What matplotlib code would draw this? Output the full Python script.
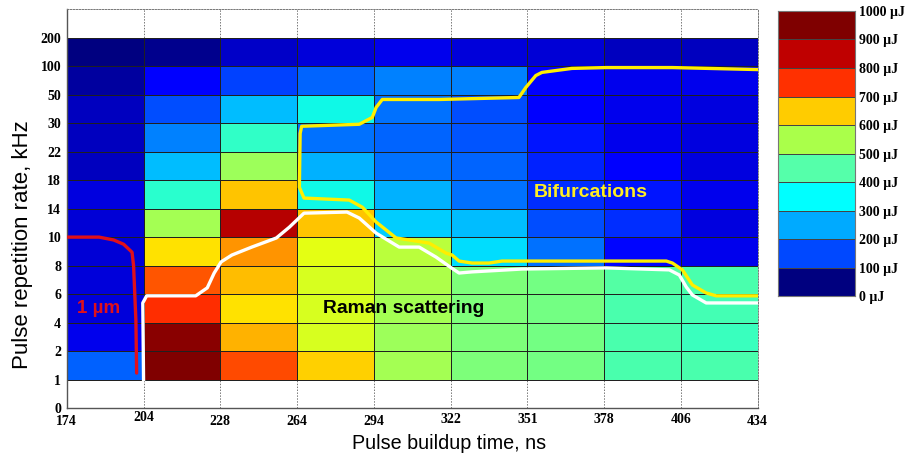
import numpy as np
import matplotlib
matplotlib.use("Agg")
import matplotlib.pyplot as plt
from matplotlib.colors import ListedColormap, BoundaryNorm

# ---- data ----
x_labels = ["174", "204", "228", "264", "294", "322", "351", "378", "406", "434"]
y_labels = ["0", "1", "2", "4", "6", "8", "10", "14", "18", "22", "30", "50", "100", "200"]

# pulse energy (µJ), columns = buildup-time bins, rows bottom (1-2 kHz) -> top (100-200 kHz)
col_174_204 = [220, 95, 80, 80, 75, 75, 85, 55, 55, 55, 30, 0]
col_204_228 = [1000, 990, 860, 820, 670, 550, 400, 310, 250, 200, 110, 15]
col_228_264 = [830, 720, 670, 710, 750, 950, 700, 540, 410, 310, 190, 65]
col_264_294 = [690, 610, 610, 610, 625, 700, 370, 300, 235, 370, 225, 80]
col_294_322 = [550, 540, 550, 560, 575, 325, 300, 235, 225, 235, 250, 95]
col_322_351 = [500, 500, 500, 500, 340, 310, 235, 225, 210, 200, 250, 80]
col_351_378 = [490, 490, 490, 490, 235, 200, 170, 160, 145, 120, 120, 75]
col_378_406 = [440, 440, 440, 450, 130, 170, 145, 110, 95, 95, 95, 55]
col_406_434 = [440, 420, 430, 440, 95, 85, 95, 85, 85, 85, 95, 55]
energy = np.array([col_174_204, col_204_228, col_228_264, col_264_294, col_294_322,
                   col_322_351, col_351_378, col_378_406, col_406_434]).T

# curves in grid coordinates (x: bin index, y: row index)
red_x = [0.0, 0.42, 0.61, 0.74, 0.85, 0.87, 0.90, 0.91]
red_y = [6.0, 6.0, 5.9, 5.75, 5.47, 5.0, 3.09, 1.23]

white_x = [1.00, 0.99, 1.04, 1.68, 1.83, 1.92, 2.01, 2.15, 2.41, 2.73, 2.90, 3.09, 3.65, 3.81,
           4.03, 4.33, 4.59, 4.81, 5.01, 5.11, 5.28, 5.93, 7.03, 7.85, 7.98, 8.07, 8.15, 8.33, 8.99]
white_y = [1.0, 3.69, 3.94, 3.94, 4.22, 4.74, 5.13, 5.37, 5.65, 5.97, 6.35, 6.84, 6.88, 6.67,
           6.14, 5.65, 5.65, 5.30, 4.92, 4.74, 4.78, 4.88, 4.92, 4.85, 4.67, 4.25, 3.97, 3.69, 3.69]

yellow_x = [8.99, 8.46, 8.33, 8.15, 8.02, 7.89, 7.81, 5.67, 5.50, 5.28, 5.11, 5.02, 4.94, 4.72,
            4.46, 4.29, 4.03, 3.85, 3.68, 3.09, 3.03, 3.04, 3.06, 3.81, 3.98, 4.03, 4.11, 4.85,
            5.89, 5.98, 6.11, 6.19, 6.58, 7.03, 7.89, 8.99]
yellow_y = [3.94, 3.94, 4.04, 4.32, 4.85, 5.09, 5.16, 5.16, 5.09, 5.09, 5.16, 5.37, 5.44, 5.79,
            5.90, 5.97, 6.53, 7.05, 7.30, 7.37, 7.75, 9.64, 9.89, 9.96, 10.20, 10.55, 10.83, 10.83,
            10.90, 11.25, 11.67, 11.78, 11.92, 11.95, 11.95, 11.88]

cbar_levels = [0, 100, 200, 300, 400, 500, 600, 700, 800, 900, 1000]
cbar_colors = ["#00007f", "#0048ff", "#00aaff", "#00ffff", "#55ffaa",
               "#aaff4a", "#ffcc00", "#ff3000", "#bf0000", "#7f0000"]

# ---- figure ----
serif_bold = dict(family="Liberation Serif", weight="bold", size=10)
fig = plt.figure(figsize=(9.15, 4.57), dpi=100)
ax = fig.add_axes([0.073, 0.107, 0.755, 0.873])

nx = len(x_labels)
ny = len(y_labels)
xe = np.arange(nx)
ye = np.arange(1, ny)
ax.pcolormesh(xe, ye, energy, cmap="jet", vmin=0, vmax=1000,
              edgecolors="#202020", linewidth=0.6, zorder=1)

ax.set_xlim(0, nx - 1)
ax.set_ylim(0, ny)
ax.set_xticks(np.arange(nx))
ax.set_xticklabels(x_labels, fontdict=serif_bold)
ax.set_yticks(np.arange(ny))
ax.set_yticklabels(y_labels, fontdict=serif_bold)
ax.tick_params(length=0, pad=4)
for i, lab in enumerate(ax.get_xticklabels()):
    if i == 1:
        lab.set_y(0.006)
    elif i in (5, 6, 7, 8):
        lab.set_y(0.002)
    else:
        lab.set_y(-0.003)

ax.grid(True, color="#777777", linestyle=(0, (1.5, 1.5)), linewidth=0.7, zorder=0)
ax.set_axisbelow(True)
for s in ("top", "right"):
    ax.spines[s].set_linestyle((0, (1.5, 1.5)))
    ax.spines[s].set_color("#777777")
    ax.spines[s].set_linewidth(0.7)
for s in ("left", "bottom"):
    ax.spines[s].set_color("#555555")
    ax.spines[s].set_linewidth(1.0)

ax.set_xlabel("Pulse buildup time, ns", family="Liberation Sans", fontsize=14.2, labelpad=5)
ax.xaxis.set_label_coords(0.553, -0.065)
ax.set_ylabel("Pulse repetition rate, kHz", family="Liberation Sans", fontsize=16, labelpad=8)
ax.yaxis.set_label_coords(-0.049, 0.41)

ax.plot(red_x, red_y, color="#e0101a", lw=2.4, solid_capstyle="round", zorder=3)
ax.plot(white_x, white_y, color="white", lw=2.4, solid_joinstyle="round", zorder=3)
ax.plot(yellow_x, yellow_y, color="#ffee00", lw=2.4, solid_joinstyle="round", zorder=4)

ax.text(0.42, 3.5, "1 µm", color="#e0101a", fontsize=13.5, fontweight="bold",
        family="Liberation Sans", ha="center", va="center", zorder=5)
ax.text(4.39, 3.5, "Raman scattering", color="black", fontsize=13.9, fontweight="bold",
        family="Liberation Sans", ha="center", va="center", zorder=5)
ax.text(6.83, 7.56, "Bifurcations", color="#ffee22", fontsize=14, fontweight="bold",
        family="Liberation Sans", ha="center", va="center", zorder=5)

# ---- colorbar ----
cax = fig.add_axes([0.850, 0.352, 0.084, 0.624])
cmap = ListedColormap(cbar_colors)
norm = BoundaryNorm(cbar_levels, cmap.N)
cax.pcolormesh([0, 1], cbar_levels, np.array(cbar_levels[:-1]).reshape(-1, 1) + 50,
               cmap=cmap, norm=norm, edgecolors="#444444", linewidth=0.6)
cax.set_xlim(0, 1)
cax.set_ylim(0, 1000)
cax.set_xticks([])
cax.yaxis.tick_right()
cax.set_yticks(cbar_levels)
cax.set_yticklabels([f"{v} µJ" for v in cbar_levels], fontdict=serif_bold)
cax.tick_params(length=0, pad=3)
for s in cax.spines.values():
    s.set_color("#777777")

fig.savefig("out.png", dpi=100)
